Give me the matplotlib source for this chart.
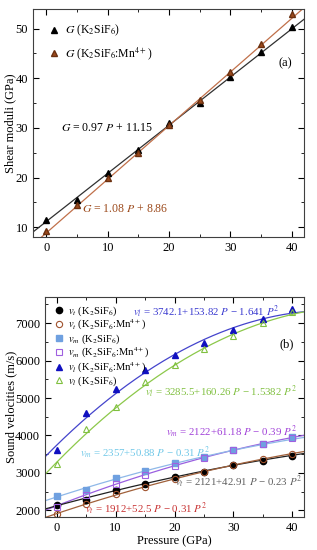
import numpy as np
import matplotlib
matplotlib.use("Agg")
import matplotlib.pyplot as plt
from matplotlib.ticker import MultipleLocator

plt.rcParams['font.family'] = ['Liberation Serif', 'DejaVu Serif']
plt.rcParams['mathtext.fontset'] = 'stix'
plt.rcParams['font.size'] = 9

# ------------------------------------------------------------------
# data
# ------------------------------------------------------------------
pressure = [0, 5, 10, 15, 20, 25, 30, 35, 40]

# (a) shear moduli
G_ksf = [11.5, 15.5, 21.0, 25.5, 31.0, 35.0, 40.3, 45.2, 50.3]
G_mn = [9.2, 14.5, 19.8, 25.0, 30.5, 35.7, 41.2, 47.0, 53.0]
fit_G_ksf = [0.97, 11.15]   # slope, intercept
fit_G_mn = [1.08, 8.86]

# (b) sound velocities
vt_ksf = [2130, 2280, 2550, 2710, 2900, 3030, 3200, 3330, 3460]
vt_mn = [1900, 2180, 2430, 2620, 2840, 3030, 3200, 3360, 3510]
vm_ksf = [2380, 2550, 2860, 3050, 3270, 3420, 3600, 3780, 3960]
vm_mn = [2100, 2420, 2700, 2950, 3190, 3400, 3600, 3770, 3940]
vl_mn = [3600, 4600, 5250, 5756, 6150, 6470, 6820, 7100, 7370]
vl_ksf = [3230, 4160, 4760, 5420, 5890, 6300, 6650, 7010, 7300]

# quadratic fits: c0 + c1 P + c2 P^2
fit_vl_mn = [3742.1, 153.82, -1.641]
fit_vl_ksf = [3285.5, 160.26, -1.5382]
fit_vm_mn = [2122, 61.18, -0.39]
fit_vm_ksf = [2357, 50.88, -0.31]
fit_vt_ksf = [2121, 42.91, -0.23]
fit_vt_mn = [1912, 52.5, -0.31]

Pfit = np.linspace(-2, 42, 200)


def quad(c, p):
    return c[0] + c[1] * p + c[2] * p ** 2


fig = plt.figure(figsize=(3.17, 5.5), dpi=100)
ax1 = fig.add_axes([0.104, 0.569, 0.855, 0.415])
ax2 = fig.add_axes([0.142, 0.060, 0.817, 0.400])

brown = '#9c4a1c'
# ------------------------------------------------------------------
# (a)
# ------------------------------------------------------------------
ax1.plot(Pfit, fit_G_ksf[0] * Pfit + fit_G_ksf[1], color='#303030', lw=0.9)
ax1.plot(Pfit, fit_G_mn[0] * Pfit + fit_G_mn[1], color='#c0704a', lw=0.9)
ax1.plot(pressure, G_ksf, '^', color='black', ms=5, ls='none',
         label=r'$G$ (K$_2$SiF$_6$)')
ax1.plot(pressure, G_mn, '^', color=brown, mec='#6b3010', ms=5, ls='none',
         label=r'$G$ (K$_2$SiF$_6$:Mn$^{4+}$)')
ax1.text(2.3, 29.9, r'$G$ = 0.97 $P$ + 11.15', color='black', va='center', fontsize=8.5)
ax1.text(5.8, 13.7, r'$G$ = 1.08 $P$ + 8.86', color=brown, va='center', fontsize=8.5)
ax1.text(39, 43, '(a)', ha='center', va='center', fontsize=9)
ax1.set_xlim(-2.2, 42)
ax1.set_ylim(8, 54)
ax1.set_ylabel('Shear moduli (GPa)')
ax1.yaxis.set_label_coords(-0.062, 0.5)
ax1.legend(loc='upper left', frameon=False, fontsize=8.5, handletextpad=0.3,
           labelspacing=0.6, borderaxespad=0.8, handlelength=1.2)

# ------------------------------------------------------------------
# (b)
# ------------------------------------------------------------------
ax2.plot(Pfit, quad(fit_vl_mn, Pfit), color='#4444cc', lw=0.9)
ax2.plot(Pfit, quad(fit_vl_ksf, Pfit), color='#8cc84a', lw=0.9)
ax2.plot(Pfit, quad(fit_vm_mn, Pfit), color='#9a5fe0', lw=0.9)
ax2.plot(Pfit, quad(fit_vm_ksf, Pfit), color='#8fb8e8', lw=0.9)
ax2.plot(Pfit, quad(fit_vt_ksf, Pfit), color='#202020', lw=0.9)
ax2.plot(Pfit, quad(fit_vt_mn, Pfit), color='#a0603a', lw=0.9)

ms = 4.5
ax2.plot(pressure, vt_ksf, 'o', color='black', ms=ms, ls='none',
         label=r'$v_t$ (K$_2$SiF$_6$)')
ax2.plot(pressure, vt_mn, 'o', mfc='none', mec='#a0522d', mew=0.8, ms=ms, ls='none',
         label=r'$v_t$ (K$_2$SiF$_6$:Mn$^{4+}$)')
ax2.plot(pressure, vm_ksf, 's', color='#6fa0e0', ms=ms, ls='none',
         label=r'$v_m$ (K$_2$SiF$_6$)')
ax2.plot(pressure, vm_mn, 's', mfc='none', mec='#a060e0', mew=0.8, ms=ms, ls='none',
         label=r'$v_m$ (K$_2$SiF$_6$:Mn$^{4+}$)')
ax2.plot(pressure, vl_mn, '^', color='#1010c0', ms=ms + 0.5, ls='none',
         label=r'$v_l$ (K$_2$SiF$_6$:Mn$^{4+}$)')
ax2.plot(pressure, vl_ksf, '^', mfc='none', mec='#80c040', mew=0.8, ms=ms + 0.5, ls='none',
         label=r'$v_l$ (K$_2$SiF$_6$)')

fs = 7.8
ax2.text(12.9, 7320, r'$v_l$ = 3742.1+153.82 $P$ − 1.641 $P^2$', color='#3a3ad0',
         va='center', fontsize=fs)
ax2.text(15.0, 5160, r'$v_l$ = 3285.5+160.26 $P$ − 1.5382 $P^2$', color='#80c040',
         va='center', fontsize=fs)
ax2.text(18.6, 4090, r'$v_m$ = 2122+61.18 $P$ − 0.39 $P^2$', color='#a040d8',
         va='center', fontsize=fs)
ax2.text(3.9, 3540, r'$v_m$ = 2357+50.88 $P$ − 0.31 $P^2$', color='#70c8e8',
         va='center', fontsize=fs)
ax2.text(20.0, 2757, r'$v_t$ = 2121+42.91 $P$ − 0.23 $P^2$', color='#606060',
         va='center', fontsize=fs)
ax2.text(4.8, 2047, r'$v_t$ = 1912+52.5 $P$ − 0.31 $P^2$', color='#c83030',
         va='center', fontsize=fs)
ax2.text(39, 6430, '(b)', ha='center', va='center', fontsize=9)

ax2.set_xlim(-2, 42)
ax2.set_ylim(1820, 7700)
ax2.set_xlabel('Pressure (GPa)', labelpad=1)
ax2.set_ylabel('Sound velocities (m/s)')
ax2.yaxis.set_label_coords(-0.108, 0.5)
ax2.legend(loc='upper left', frameon=False, fontsize=7.6, handletextpad=0.3,
           labelspacing=0.0, borderaxespad=0.3, handlelength=1.2)

for ax in (ax1, ax2):
    ax.xaxis.set_major_locator(MultipleLocator(10))
    ax.xaxis.set_minor_locator(MultipleLocator(5))
    ax.tick_params(which='both', direction='in', top=True, right=True, labelsize=9)
    ax.tick_params(which='major', length=4)
    ax.tick_params(which='minor', length=2.5)
    for s in ax.spines.values():
        s.set_color('#404040')
ax1.yaxis.set_major_locator(MultipleLocator(10))
ax1.yaxis.set_minor_locator(MultipleLocator(5))
ax2.yaxis.set_major_locator(MultipleLocator(1000))
ax2.yaxis.set_minor_locator(MultipleLocator(500))

fig.savefig('out.png', dpi=100)
